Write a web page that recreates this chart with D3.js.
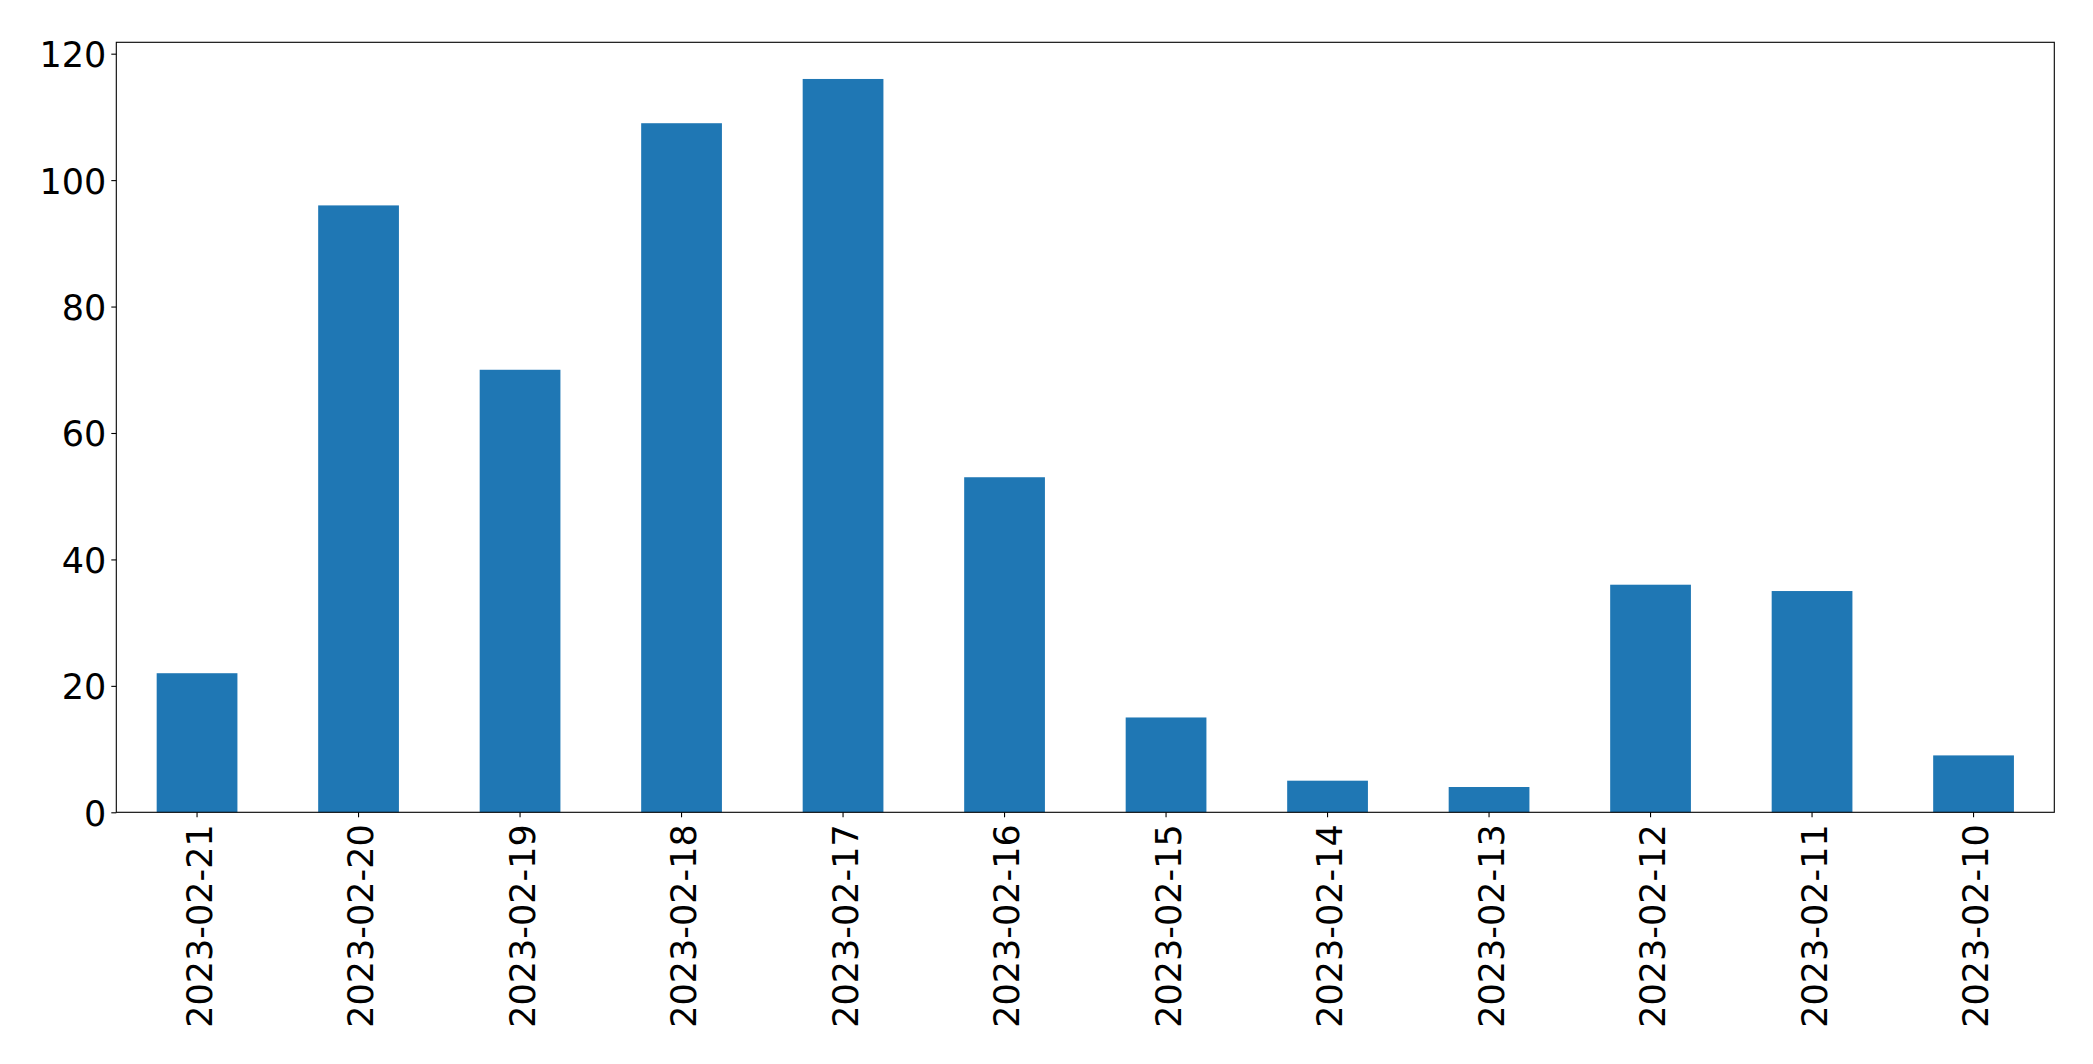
<!DOCTYPE html>
<html>
<head>
<meta charset="utf-8">
<script src="https://cdn.jsdelivr.net/npm/d3@7"></script>
<style>
  html, body { margin: 0; padding: 0; background: #fff; }
  svg { display: block; }
  text { font-family: "DejaVu Sans", sans-serif; fill: #000; }
</style>
</head>
<body>
<svg id="chart" width="2093" height="1064"></svg>
<script>
const categories = ["2023-02-21","2023-02-20","2023-02-19","2023-02-18","2023-02-17","2023-02-16","2023-02-15","2023-02-14","2023-02-13","2023-02-12","2023-02-11","2023-02-10"];
const values = [22, 96, 70, 109, 116, 53, 15, 5, 4, 36, 35, 9];
const yTicks = [0, 20, 40, 60, 80, 100, 120];

const svg = d3.select("#chart");
const margin = {left: 116.3, top: 42.3, right: 2093 - 2054.3, bottom: 1064 - 812.3};
const W = 2093 - margin.left - margin.right;
const H = 1064 - margin.top - margin.bottom;
const g = svg.append("g").attr("transform", `translate(${margin.left},${margin.top})`);

const x = d3.scaleBand().domain(categories).range([0, W]).paddingInner(0.5).paddingOuter(0.25);
const y = d3.scaleLinear().domain([0, d3.max(values) * 1.05]).range([H, 0]);

g.selectAll("rect.bar").data(values).join("rect")
  .attr("class", "bar")
  .attr("x", (d, i) => x(categories[i]))
  .attr("width", x.bandwidth())
  .attr("y", d => y(d))
  .attr("height", d => H - y(d))
  .attr("fill", "#1f77b4");

const fs = 35;
const yAxis = g.append("g").call(d3.axisLeft(y).tickValues(yTicks).tickSize(5).tickPadding(5).tickFormat(d3.format("d")));
yAxis.select(".domain").remove();
yAxis.selectAll("line").attr("stroke", "#000").attr("stroke-width", 1.1);
yAxis.selectAll("text").style("font-size", fs + "px").attr("dy", "0.37em");

const xAxis = g.append("g").attr("transform", `translate(0,${H})`).call(d3.axisBottom(x).tickSize(5).tickPadding(0));
xAxis.select(".domain").remove();
xAxis.selectAll("line").attr("stroke", "#000").attr("stroke-width", 1.1);
xAxis.selectAll("text")
  .style("font-size", fs + "px")
  .attr("text-anchor", "end")
  .attr("transform", "translate(0,12) rotate(-90)")
  .attr("x", 0).attr("y", 0)
  .attr("dy", "0.42em");

g.append("rect").attr("x", 0).attr("y", 0).attr("width", W).attr("height", H)
  .attr("fill", "none").attr("stroke", "#000").attr("stroke-width", 1.1);
</script>
</body>
</html>
